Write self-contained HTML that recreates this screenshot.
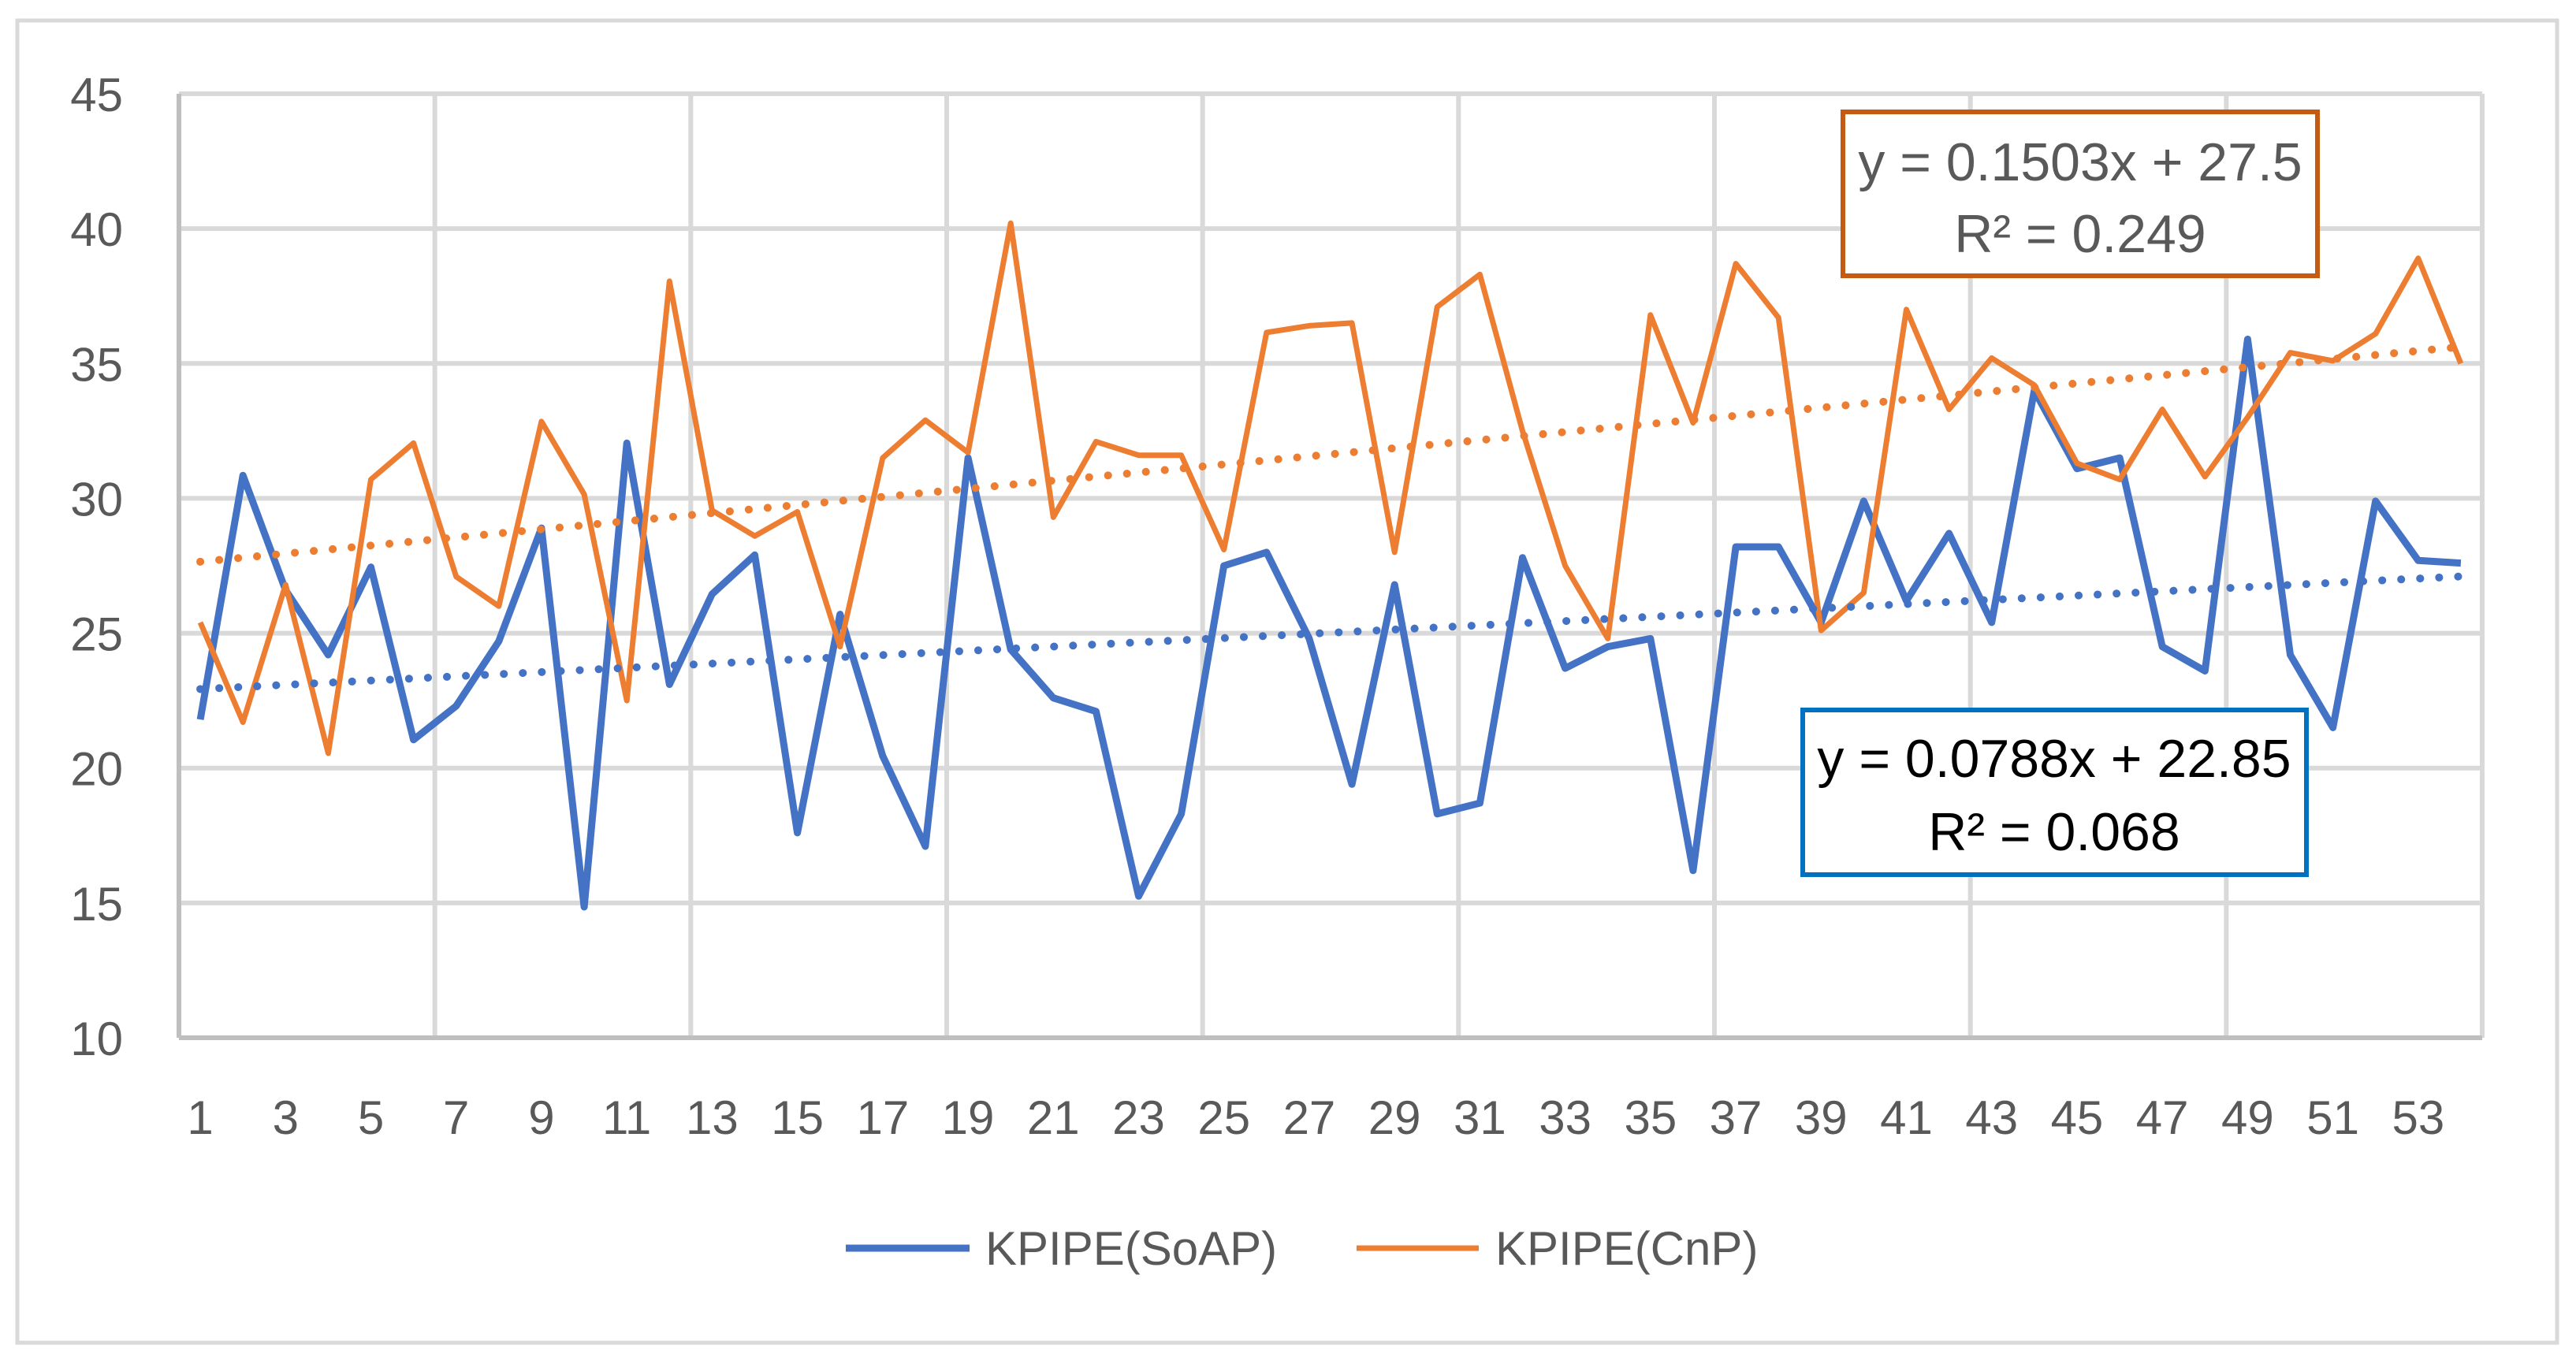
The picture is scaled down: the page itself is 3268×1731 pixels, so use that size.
<!DOCTYPE html>
<html><head><meta charset="utf-8"><style>
html,body{margin:0;padding:0;background:#fff;}
svg{display:block;font-family:"Liberation Sans",sans-serif;}
</style></head><body>
<svg id="chart" width="3268" height="1731" viewBox="0 0 3268 1731" xmlns="http://www.w3.org/2000/svg">
<rect x="22" y="26" width="3222" height="1678" fill="#fff" stroke="#d9d9d9" stroke-width="5"/>
<g id="grid"></g>
<g id="ylabels"></g>
<g id="xlabels"></g>
<g id="series"></g>
<g>
<rect x="2338" y="142" width="602" height="208" fill="#fff" stroke="#c55a11" stroke-width="6"/>
<text x="2639" y="229" text-anchor="middle" font-size="68" fill="#595959">y = 0.1503x + 27.5</text>
<text x="2639" y="320" text-anchor="middle" font-size="68" fill="#595959">R² = 0.249</text>
</g>
<g>
<rect x="2287" y="901" width="639" height="209" fill="#fff" stroke="#0070c0" stroke-width="6"/>
<text x="2606" y="986" text-anchor="middle" font-size="68" fill="#000">y = 0.0788x + 22.85</text>
<text x="2606" y="1079" text-anchor="middle" font-size="68" fill="#000">R² = 0.068</text>
</g>
<g>
<line x1="1073" y1="1584" x2="1230" y2="1584" stroke="#4472c4" stroke-width="9"/>
<text x="1250" y="1605" font-size="60" fill="#595959">KPIPE(SoAP)</text>
<line x1="1721" y1="1584" x2="1876" y2="1584" stroke="#ed7d31" stroke-width="7"/>
<text x="1897" y="1605" font-size="60" fill="#595959">KPIPE(CnP)</text>
</g>
</svg>
<script>
const soap = [21.8,30.85,26.6,24.2,27.45,21.05,22.3,24.7,28.9,14.85,32.05,23.1,26.45,27.9,17.6,25.7,20.45,17.1,31.5,24.4,22.6,22.1,15.25,18.3,27.5,28.0,24.8,19.4,26.8,18.3,18.7,27.8,23.7,24.5,24.8,16.2,28.2,28.2,25.4,29.9,26.2,28.7,25.4,34.0,31.1,31.5,24.5,23.6,35.9,24.2,21.5,29.9,27.7,27.6];
const cnp = [25.4,21.7,26.8,20.55,30.7,32.05,27.1,26.0,32.85,30.15,22.5,38.05,29.55,28.6,29.5,24.5,31.5,32.9,31.7,40.2,29.3,32.1,31.6,31.6,28.1,36.15,36.4,36.5,28.0,37.1,38.3,32.5,27.5,24.8,36.8,32.8,38.7,36.7,25.1,26.5,37.0,33.3,35.2,34.2,31.3,30.7,33.3,30.8,33.0,35.4,35.1,36.1,38.9,35.0];
const yTicks = [10,15,20,25,30,35,40,45];
const trendSoap = [0.0788, 22.85];
const trendCnp = [0.1503, 27.5];

const NS = "http://www.w3.org/2000/svg";
const L = 227, R = 3149, T = 119, B = 1317, yMin = 10, yMax = 45;
const n = soap.length;
const step = (R - L) / n;
const xPos = i => L + (i + 0.5) * step;
const yPos = v => B - (v - yMin) / (yMax - yMin) * (B - T);
function mk(tag, attrs, parent) {
  const e = document.createElementNS(NS, tag);
  for (const k in attrs) e.setAttribute(k, attrs[k]);
  parent.appendChild(e);
  return e;
}
const grid = document.getElementById('grid');
yTicks.forEach(t => {
  const l = mk('line', {x1: L, x2: R, y1: yPos(t), y2: yPos(t), stroke: '#d9d9d9', 'stroke-width': 6}, grid);
  
  
});
for (let k = 0; k <= n; k += 6) {
  const x = L + k * step;
  const l = mk('line', {x1: x, x2: x, y1: T, y2: B, stroke: '#d9d9d9', 'stroke-width': 6}, grid);
  
  
}
const rb = mk('line', {x1: R, x2: R, y1: T, y2: B, stroke: '#d9d9d9', 'stroke-width': 6}, grid);


const ax = mk('line', {x1: L, x2: R, y1: B, y2: B, stroke: '#bfbfbf', 'stroke-width': 6}, grid);


const ay = mk('line', {x1: L, x2: L, y1: T, y2: B, stroke: '#bfbfbf', 'stroke-width': 6}, grid);



const yl = document.getElementById('ylabels');
yTicks.forEach(t => {
  const e = mk('text', {x: 156, y: yPos(t) + 22, 'text-anchor': 'end', 'font-size': 60, fill: '#595959'}, yl);
  e.textContent = t;
  
  
});
const xl = document.getElementById('xlabels');
for (let i = 0; i < n; i += 2) {
  const e = mk('text', {x: xPos(i), y: 1439, 'text-anchor': 'middle', 'font-size': 60, fill: '#595959'}, xl);
  e.textContent = i + 1;
  
  
}
const sg = document.getElementById('series');
function trend(c, color, name) {
  const x1 = xPos(0), x2 = xPos(n - 1);
  const l = mk('line', {x1: x1, y1: yPos(c[0] * 1 + c[1]), x2: x2, y2: yPos(c[0] * n + c[1]), stroke: color, 'stroke-width': 10, 'stroke-linecap': 'round', 'stroke-dasharray': '0.1 24'}, sg);
  
  
}
function series(vals, color, w, name) {
  const pts = vals.map((v, i) => xPos(i).toFixed(1) + ',' + yPos(v).toFixed(1)).join(' ');
  const p = mk('polyline', {points: pts, fill: 'none', stroke: color, 'stroke-width': w, 'stroke-linejoin': 'round'}, sg);
  
  
}
series(soap, '#4472c4', 9, 'series-soap-line');
series(cnp, '#ed7d31', 7, 'series-cnp-line');
trend(trendSoap, '#4472c4', 'trendline-soap');
trend(trendCnp, '#ed7d31', 'trendline-cnp');
</script>
</body></html>
